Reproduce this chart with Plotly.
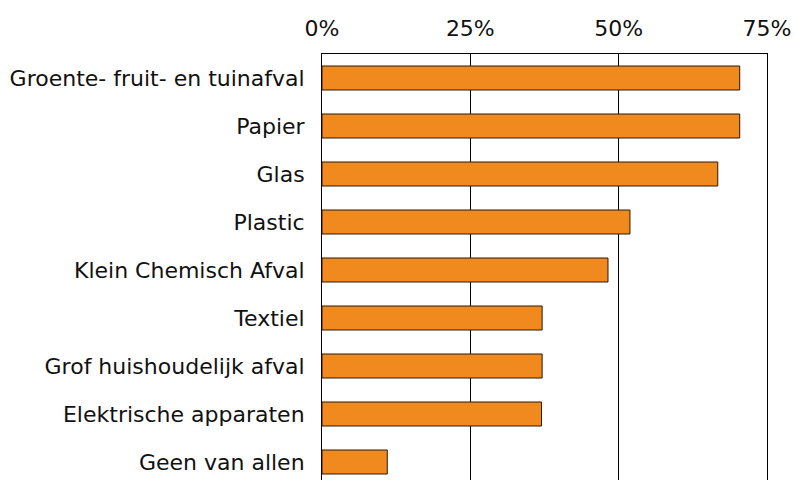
import plotly.graph_objects as go

categories = [
    "Groente- fruit- en tuinafval",
    "Papier",
    "Glas",
    "Plastic",
    "Klein Chemisch Afval",
    "Textiel",
    "Grof huishoudelijk afval",
    "Elektrische apparaten",
    "Geen van allen",
]
values = [70.4, 70.4, 66.7, 51.9, 48.2, 37.1, 37.1, 37.0, 11.0]
tick_vals = [0, 25, 50, 75]
tick_text = ["0%", "25%", "50%", "75%"]

fig = go.Figure(
    go.Bar(
        x=values,
        y=categories,
        orientation="h",
        width=0.5,
        marker=dict(color="#F0891E", line=dict(color="#2a1a08", width=1)),
        hoverinfo="x+y",
    )
)

font = "DejaVu Sans, Verdana, sans-serif"
fig.update_layout(
    width=795,
    height=486,
    margin=dict(l=322, r=28, t=54, b=0),
    paper_bgcolor="white",
    plot_bgcolor="white",
    showlegend=False,
    font=dict(family=font, size=22, color="#111111"),
    xaxis=dict(
        side="top",
        range=[0, 75],
        tickvals=tick_vals,
        ticktext=tick_text,
        showgrid=True,
        gridcolor="black",
        gridwidth=1,
        zeroline=False,
        showline=True,
        linecolor="black",
        linewidth=1,
        ticks="",
        ticklabelstandoff=8,
        tickfont=dict(size=22),
        automargin=False,
    ),
    yaxis=dict(
        type="category",
        range=[8.5, -0.5],
        showgrid=False,
        zeroline=False,
        showline=True,
        mirror=True,
        linecolor="black",
        linewidth=1,
        ticks="",
        ticklabelstandoff=12,
        tickfont=dict(size=22),
        automargin=False,
    ),
)

fig.write_html(
    "out.html",
    config={"displayModeBar": False},
    post_script="document.body.style.margin='0';document.body.style.overflow='hidden';",
)
